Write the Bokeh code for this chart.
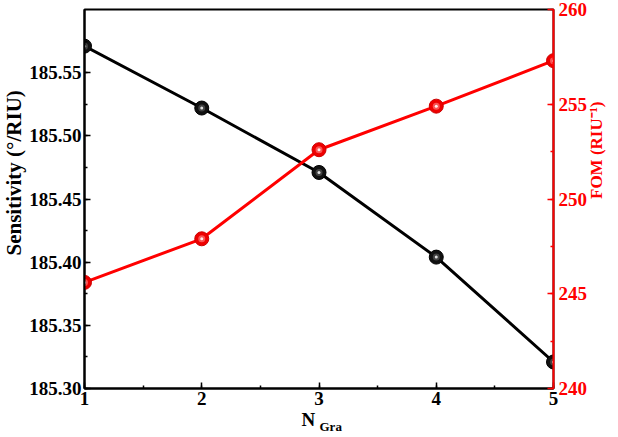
import math
from bokeh.plotting import figure
from bokeh.models import Range1d, LinearAxis, SingleIntervalTicker, PrintfTickFormatter, Title
from bokeh.embed import file_html
from bokeh.resources import INLINE

n_gra = [1, 2, 3, 4, 5]
sensitivity = [185.571, 185.522, 185.471, 185.404, 185.321]
fom = [245.6, 247.9, 252.6, 254.9, 257.3]

FONT = "Liberation Serif"
RED = "#ff0000"

p = figure(width=618, height=437, output_backend="svg", toolbar_location=None,
           x_range=Range1d(1, 5), y_range=Range1d(185.30, 185.60),
           min_border_left=84, min_border_right=63, min_border_top=9, min_border_bottom=49)
p.grid.visible = False
p.background_fill_color = "white"
p.border_fill_color = "white"
p.outline_line_color = "black"
p.outline_line_width = 2
p.extra_y_ranges = {"fom": Range1d(240, 260)}


def style(ax, color, interval, fmt, size):
    ax.ticker = SingleIntervalTicker(interval=interval, num_minor_ticks=2)
    if fmt:
        ax.formatter = PrintfTickFormatter(format=fmt)
    ax.axis_line_color = color
    ax.axis_line_width = 2
    ax.major_tick_line_color = color
    ax.minor_tick_line_color = color
    ax.major_tick_line_width = 1.5
    ax.minor_tick_line_width = 1.5
    ax.major_tick_in = 6
    ax.major_tick_out = 0
    ax.minor_tick_in = 3
    ax.minor_tick_out = 0
    ax.major_label_text_font = FONT
    ax.major_label_text_font_style = "bold"
    ax.major_label_text_font_size = size
    ax.major_label_text_color = color
    ax.axis_label_text_font = FONT
    ax.axis_label_text_font_style = "bold"
    ax.axis_label_text_font_size = "17px"
    ax.axis_label_text_color = color


xa = p.xaxis[0]
style(xa, "black", 1, None, "19px")
xa.major_label_standoff = 3
ya = p.yaxis[0]
style(ya, "black", 0.05, "%.2f", "19px")
ya.major_label_standoff = 3

ra = LinearAxis(y_range_name="fom")
style(ra, RED, 5, None, "19px")
ra.axis_label = "FOM (RIU⁻¹)"
ra.axis_label_orientation = math.pi / 2
ra.major_label_standoff = 5
ra.axis_label_standoff = 6
p.add_layout(ra, "right")

# left axis title (reads upward)
p.add_layout(Title(text="Sensitivity (°/RIU)", text_font=FONT, text_font_style="bold",
                   text_font_size="21px", text_color="black", align="left", offset=133,
                   standoff=0, vertical_align="middle"), "left")

p.line(n_gra, sensitivity, line_color="black", line_width=3)
p.line(n_gra, fom, line_color=RED, line_width=3, y_range_name="fom")

p.scatter(n_gra, sensitivity, size=14, fill_color="#111111", line_color="#000000", line_width=1)
p.scatter(n_gra, sensitivity, size=7, fill_color="#555555", line_color=None, fill_alpha=0.7)
p.scatter(n_gra, sensitivity, size=3, fill_color="#dddddd", line_color=None)
p.scatter(n_gra, fom, size=14, fill_color="#ee0000", line_color="#cc0000", line_width=1, y_range_name="fom")
p.scatter(n_gra, fom, size=7, fill_color="#ff7777", line_color=None, fill_alpha=0.7, y_range_name="fom")
p.scatter(n_gra, fom, size=3, fill_color="#ffeeee", line_color=None, y_range_name="fom")

# x-axis title N_Gra as two titles below the axis
p.add_layout(Title(text="N", text_font=FONT, text_font_style="bold", text_font_size="19px",
                   text_color="black", align="left", offset=217, standoff=2,
                   vertical_align="top"), "below")
p.add_layout(Title(text="Gra", text_font=FONT, text_font_style="bold", text_font_size="13px",
                   text_color="black", align="left", offset=235, standoff=-27,
                   vertical_align="top"), "below")

open("out.html", "w").write(file_html(p, INLINE))
